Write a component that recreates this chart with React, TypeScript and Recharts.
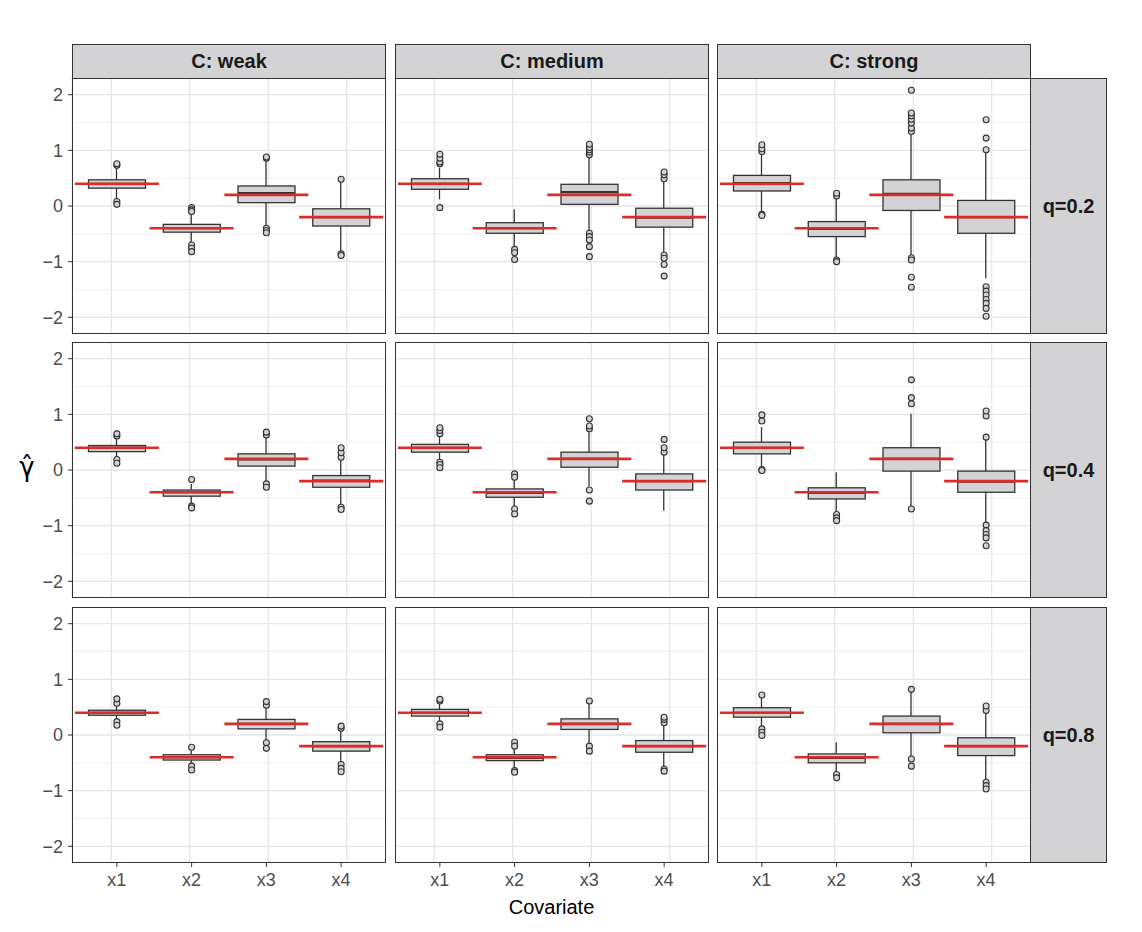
import { Bar, CartesianGrid, ComposedChart, Scatter, XAxis, YAxis } from "recharts";

const categories = ["x1", "x2", "x3", "x4"];
const trueValues = [0.4, -0.4, 0.2, -0.2];
const strengths = ["C: weak", "C: medium", "C: strong"];
const qLabels = ["q=0.2", "q=0.4", "q=0.8"];
const yTicks = [-2, -1, 0, 1, 2];
const yMinor = [-1.5, -0.5, 0.5, 1.5];

// box stats per covariate: [lower whisker, q1, median, q3, upper whisker]
const weakQ02 = [
  [0.1, 0.32, 0.4, 0.47, 0.7],
  [-0.66, -0.47, -0.4, -0.33, -0.13],
  [-0.37, 0.06, 0.23, 0.36, 0.82],
  [-0.83, -0.36, -0.2, -0.05, 0.45],
];
const weakQ02Out = [
  [0.73, 0.76, 0.08, 0.03],
  [-0.03, -0.07, -0.1, -0.7, -0.76, -0.82],
  [0.86, 0.88, -0.4, -0.44, -0.48],
  [0.48, -0.86, -0.89],
];
const mediumQ02 = [
  [0.12, 0.3, 0.4, 0.49, 0.69],
  [-0.73, -0.49, -0.4, -0.3, -0.06],
  [-0.47, 0.03, 0.25, 0.39, 0.9],
  [-0.85, -0.38, -0.21, -0.04, 0.47],
];
const mediumQ02Out = [
  [0.76, 0.79, 0.86, 0.93, -0.03],
  [-0.78, -0.84, -0.96],
  [0.92, 0.97, 1.01, 1.05, 1.11, -0.49, -0.55, -0.61, -0.73, -0.91],
  [0.49, 0.56, 0.61, -0.88, -0.94, -1.05, -1.26],
];
const strongQ02 = [
  [-0.13, 0.27, 0.41, 0.55, 0.95],
  [-0.95, -0.55, -0.41, -0.28, 0.17],
  [-0.9, -0.08, 0.22, 0.47, 1.31],
  [-1.3, -0.49, -0.2, 0.1, 0.98],
];
const strongQ02Out = [
  [0.98, 1.03, 1.1, -0.15, -0.17],
  [0.18, 0.23, -0.97, -1.0],
  [1.34, 1.4, 1.49, 1.56, 1.62, 1.67, 2.08, -0.93, -0.97, -1.28, -1.46],
  [1.01, 1.22, 1.55, -1.45, -1.53, -1.6, -1.68, -1.75, -1.84, -1.98],
];
const weakQ04 = [
  [0.21, 0.33, 0.4, 0.44, 0.58],
  [-0.6, -0.47, -0.4, -0.36, -0.25],
  [-0.2, 0.07, 0.19, 0.29, 0.6],
  [-0.62, -0.31, -0.19, -0.1, 0.2],
];
const weakQ04Out = [
  [0.61, 0.65, 0.19, 0.12],
  [-0.17, -0.65, -0.68],
  [0.63, 0.68, -0.25, -0.31],
  [0.23, 0.31, 0.4, -0.67, -0.71],
];
const mediumQ04 = [
  [0.17, 0.32, 0.4, 0.46, 0.62],
  [-0.65, -0.49, -0.41, -0.34, -0.17],
  [-0.29, 0.05, 0.2, 0.32, 0.72],
  [-0.73, -0.36, -0.2, -0.07, 0.3],
];
const mediumQ04Out = [
  [0.65, 0.71, 0.76, 0.14, 0.1, 0.04],
  [-0.07, -0.13, -0.7, -0.79],
  [0.74, 0.79, 0.92, -0.36, -0.56],
  [0.32, 0.4, 0.55],
];
const strongQ04 = [
  [0.04, 0.29, 0.4, 0.5, 0.77],
  [-0.77, -0.52, -0.41, -0.32, -0.04],
  [-0.66, -0.02, 0.2, 0.4, 1.01],
  [-0.96, -0.4, -0.21, -0.02, 0.56],
];
const strongQ04Out = [
  [0.88, 0.99, 0.01, -0.01],
  [-0.8, -0.86, -0.91],
  [1.19, 1.3, 1.62, -0.7],
  [0.59, 0.97, 1.06, -0.99, -1.09, -1.16, -1.22, -1.36],
];
const weakQ08 = [
  [0.26, 0.355, 0.4, 0.445, 0.55],
  [-0.53, -0.45, -0.4, -0.355, -0.28],
  [-0.1, 0.11, 0.2, 0.28, 0.5],
  [-0.48, -0.29, -0.2, -0.12, 0.1],
];
const weakQ08Out = [
  [0.57, 0.65, 0.24, 0.175],
  [-0.22, -0.56, -0.63],
  [0.535, 0.6, -0.14, -0.24],
  [0.12, 0.16, -0.53, -0.6, -0.66],
];
const mediumQ08 = [
  [0.22, 0.34, 0.4, 0.46, 0.58],
  [-0.6, -0.46, -0.41, -0.355, -0.22],
  [-0.17, 0.1, 0.2, 0.29, 0.58],
  [-0.58, -0.31, -0.2, -0.1, 0.2],
];
const mediumQ08Out = [
  [0.61, 0.64, 0.2, 0.14],
  [-0.13, -0.2, -0.64, -0.67],
  [0.61, -0.2, -0.29],
  [0.22, 0.28, 0.32, -0.61, -0.65],
];
const strongQ08 = [
  [0.14, 0.32, 0.4, 0.49, 0.7],
  [-0.68, -0.5, -0.41, -0.34, -0.13],
  [-0.4, 0.04, 0.2, 0.34, 0.8],
  [-0.82, -0.37, -0.2, -0.05, 0.42],
];
const strongQ08Out = [
  [0.72, 0.11, 0.05, -0.01],
  [-0.71, -0.77],
  [0.82, -0.43, -0.56],
  [0.44, 0.52, -0.85, -0.91, -0.97],
];

// rows = q levels, columns = C strength
const panelStats = [
  [weakQ02, mediumQ02, strongQ02],
  [weakQ04, mediumQ04, strongQ04],
  [weakQ08, mediumQ08, strongQ08],
];
const panelOutliers = [
  [weakQ02Out, mediumQ02Out, strongQ02Out],
  [weakQ04Out, mediumQ04Out, strongQ04Out],
  [weakQ08Out, mediumQ08Out, strongQ08Out],
];

const FONT = "'Liberation Sans', Arial, Helvetica, sans-serif";
const colX = [72, 395, 717];
const rowY = [78, 342, 607];
const PW = 314;
const PH = 256;
const Y_AXIS_W = 72;
const X_AXIS_H = 44;
const INK = "#333333";
const BOX_FILL = "#d3d3d5";
const RED = "#dd2c27";

const fmt = (v: number) => (v < 0 ? `\u2212${Math.abs(v)}` : `${v}`);

const Whisker = (p: any) => {
  const cx = p.x + p.width / 2;
  const top = Math.min(p.y, p.y + p.height);
  const bottom = Math.max(p.y, p.y + p.height);
  return <line x1={cx} x2={cx} y1={top} y2={bottom} stroke={INK} strokeWidth={1.3} />;
};

const Box = (p: any) => {
  const top = Math.min(p.y, p.y + p.height);
  const h = Math.abs(p.height);
  return <rect x={p.x} y={top} width={p.width} height={h} fill={BOX_FILL} stroke={INK} strokeWidth={1.3} />;
};

const Median = (p: any) => (
  <line x1={p.cx - 28.5} x2={p.cx + 28.5} y1={p.cy} y2={p.cy} stroke={INK} strokeWidth={2.2} />
);

const Truth = (p: any) => (
  <line x1={p.cx - 42} x2={p.cx + 42} y1={p.cy} y2={p.cy} stroke={RED} strokeWidth={2.6} />
);

const Outlier = (p: any) => (
  <circle cx={p.cx} cy={p.cy} r={3} fill={BOX_FILL} stroke={INK} strokeWidth={1.1} />
);

function Panel({ row, col }: { row: number; col: number }) {
  const stats = panelStats[row][col];
  const outs = panelOutliers[row][col];
  const data = categories.map((cat, i) => ({
    cat,
    lo: stats[i][0],
    q1: stats[i][1],
    med: stats[i][2],
    q3: stats[i][3],
    hi: stats[i][4],
    truth: trueValues[i],
  }));
  const outPts = categories.flatMap((cat, i) => outs[i].map((v) => ({ cat, v })));
  const showY = col === 0;
  const showX = row === 2;
  const w = PW + (showY ? Y_AXIS_W : 0);
  const h = PH + (showX ? X_AXIS_H : 0);
  const pad = { left: 7.5, right: 7.5 };

  return (
    <div style={{ position: "absolute", left: colX[col] - (showY ? Y_AXIS_W : 0), top: rowY[row] }}>
      <ComposedChart width={w} height={h} data={data} margin={{ top: 0, right: 0, bottom: 0, left: 0 }}>
        <CartesianGrid
          horizontalValues={yMinor}
          vertical={false}
          stroke="#ececec"
          strokeWidth={0.8}
        />
        <CartesianGrid horizontalValues={yTicks} stroke="#e6e6e8" strokeWidth={1.3} />
        <XAxis
          xAxisId="a"
          dataKey="cat"
          type="category"
          allowDuplicatedCategory={false}
          padding={pad}
          hide={!showX}
          height={X_AXIS_H}
          axisLine={false}
          tickLine={{ stroke: INK }}
          tickSize={4}
          tickMargin={6}
          tick={{ fontSize: 18, fill: "#4d4d4d", fontFamily: FONT }}
        />
        <XAxis
          xAxisId="w"
          dataKey="cat"
          type="category"
          allowDuplicatedCategory={false}
          padding={pad}
          hide
        />
        <YAxis
          type="number"
          domain={[-2.3, 2.3]}
          ticks={yTicks}
          allowDataOverflow
          hide={!showY}
          width={Y_AXIS_W}
          axisLine={false}
          tickLine={{ stroke: INK }}
          tickSize={4}
          tickMargin={5}
          tickFormatter={fmt}
          tick={{ fontSize: 18, fill: "#4d4d4d", fontFamily: FONT }}
        />
        <Bar
          xAxisId="w"
          dataKey={(d: any) => [d.lo, d.hi]}
          barSize={4}
          shape={Whisker}
          isAnimationActive={false}
        />
        <Bar
          xAxisId="a"
          dataKey={(d: any) => [d.q1, d.q3]}
          barSize={57}
          shape={Box}
          isAnimationActive={false}
        />
        <Scatter xAxisId="a" dataKey="med" shape={Median} isAnimationActive={false} />
        <Scatter xAxisId="a" data={outPts} dataKey="v" shape={Outlier} isAnimationActive={false} />
        <Scatter xAxisId="a" dataKey="truth" shape={Truth} isAnimationActive={false} />
      </ComposedChart>
      <div
        style={{
          position: "absolute",
          left: showY ? Y_AXIS_W : 0,
          top: 0,
          width: PW,
          height: PH,
          border: `1px solid ${INK}`,
          boxSizing: "border-box",
          pointerEvents: "none",
        }}
      />
    </div>
  );
}

const stripText = {
  fontFamily: FONT,
  fontWeight: 700,
  fontSize: 20,
  color: "#1a1a1a",
  display: "flex",
  alignItems: "center",
  justifyContent: "center",
  boxSizing: "border-box" as const,
  background: BOX_FILL,
  border: `1px solid ${INK}`,
  position: "absolute" as const,
};

export default function App() {
  return (
    <div
      style={{
        position: "absolute",
        left: 0,
        top: 0,
        width: 1142,
        height: 932,
        background: "#ffffff",
        fontFamily: FONT,
      }}
    >
      {strengths.map((s, c) => (
        <div key={s} style={{ ...stripText, left: colX[c], top: 44, width: PW, height: 35 }}>
          {s}
        </div>
      ))}
      {qLabels.map((q, r) => (
        <div key={q} style={{ ...stripText, left: colX[2] + PW - 1, top: rowY[r], width: 77, height: PH }}>
          {q}
        </div>
      ))}
      {qLabels.map((q, r) =>
        strengths.map((s, c) => <Panel key={`${q}-${s}`} row={r} col={c} />)
      )}
      <div
        style={{
          position: "absolute",
          left: 10,
          top: 452,
          width: 34,
          textAlign: "center",
          fontSize: 26,
          fontFamily: "'DejaVu Sans', sans-serif",
          color: "#000",
        }}
      >
        γ̂
      </div>
      <div
        style={{
          position: "absolute",
          left: colX[0],
          top: 896,
          width: colX[2] + PW - colX[0],
          textAlign: "center",
          fontSize: 20,
          color: "#000",
        }}
      >
        Covariate
      </div>
    </div>
  );
}
